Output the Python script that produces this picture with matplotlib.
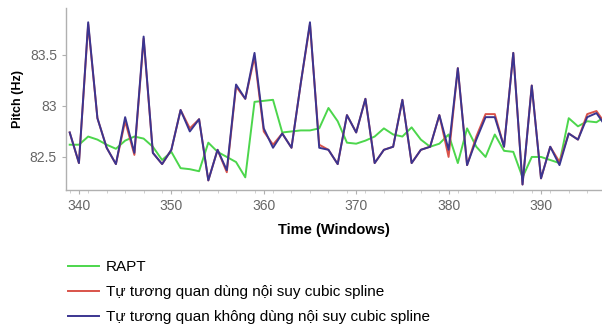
import matplotlib
matplotlib.use("Agg")
import matplotlib.pyplot as plt
import numpy as np

# window index on the x axis
windows = np.arange(339, 398)

rapt = [82.62, 82.62, 82.70, 82.67, 82.62, 82.58, 82.66, 82.70, 82.68, 82.60,
        82.47, 82.55, 82.39, 82.38, 82.36, 82.64, 82.55, 82.50, 82.45, 82.30,
        83.04, 83.05, 83.06, 82.74, 82.75, 82.76, 82.76, 82.78, 82.98, 82.85,
        82.64, 82.63, 82.66, 82.70, 82.78, 82.72, 82.70, 82.79, 82.67, 82.60,
        82.63, 82.72, 82.44, 82.78, 82.60, 82.50, 82.72, 82.56, 82.55, 82.30,
        82.50, 82.50, 82.47, 82.44, 82.88, 82.80, 82.85, 82.84, 82.90]

acf_spline = [82.74, 82.44, 83.80, 82.88, 82.59, 82.43, 82.85, 82.52, 83.66, 82.54,
              82.43, 82.57, 82.96, 82.78, 82.87, 82.27, 82.57, 82.35, 83.19, 83.07,
              83.48, 82.75, 82.62, 82.73, 82.59, 83.22, 83.80, 82.62, 82.57, 82.43,
              82.91, 82.74, 83.07, 82.44, 82.57, 82.60, 83.06, 82.44, 82.57, 82.60,
              82.91, 82.50, 83.37, 82.42, 82.70, 82.92, 82.92, 82.60, 83.52, 82.23,
              83.20, 82.29, 82.60, 82.45, 82.73, 82.67, 82.92, 82.95, 82.82]

acf_no_spline = [82.74, 82.44, 83.82, 82.88, 82.59, 82.43, 82.89, 82.54, 83.68, 82.54,
                 82.43, 82.57, 82.96, 82.75, 82.87, 82.27, 82.57, 82.37, 83.21, 83.07,
                 83.52, 82.78, 82.59, 82.73, 82.59, 83.22, 83.82, 82.59, 82.57, 82.43,
                 82.91, 82.74, 83.07, 82.44, 82.57, 82.60, 83.06, 82.44, 82.57, 82.60,
                 82.91, 82.57, 83.37, 82.42, 82.67, 82.89, 82.89, 82.60, 83.52, 82.23,
                 83.20, 82.29, 82.60, 82.42, 82.73, 82.67, 82.89, 82.93, 82.80]

labels = ["RAPT",
          "Tự tương quan dùng nội suy cubic spline",
          "Tự tương quan không dùng nội suy cubic spline"]
colors = ["#4cd64c", "#d9534a", "#3b3590"]

plt.rcParams["font.family"] = ["Liberation Sans", "DejaVu Sans"]

fig = plt.figure(figsize=(6.02, 3.28), dpi=100)
ax = fig.add_axes([66 / 602, 1 - 190 / 328, 1 - 66 / 602, 182 / 328])

l1, = ax.plot(windows, rapt, color=colors[0], lw=1.4)
l2, = ax.plot(windows, acf_spline, color=colors[1], lw=1.4)
l3, = ax.plot(windows, acf_no_spline, color=colors[2], lw=1.4)

ax.set_xlim(338.6, 396.6)
ax.set_ylim(82.176, 83.96)
ax.set_xticks([340, 350, 360, 370, 380, 390])
ax.set_yticks([82.5, 83, 83.5])
ax.set_yticklabels(["82.5", "83", "83.5"])
ax.set_xticks(np.arange(339, 397, 2), minor=True)

for side in ["top", "right"]:
    ax.spines[side].set_visible(False)
for side in ["left", "bottom"]:
    ax.spines[side].set_color("#b0b0b0")
    ax.spines[side].set_linewidth(1.0)

ax.tick_params(axis="both", colors="#b0b0b0", labelcolor="#666666",
               labelsize=10, length=3, width=0.8)
ax.tick_params(axis="x", which="minor", colors="#c8c8c8", length=2, width=0.6)

ax.set_xlabel("Time (Windows)", fontsize=10.5, fontweight="bold", labelpad=7)
ax.set_ylabel("Pitch (Hz)", fontsize=9, fontweight="bold", labelpad=4)

fig.legend([l1, l2, l3], labels, loc="upper left",
           bbox_to_anchor=(62 / 602, 1 - 254 / 328), frameon=False,
           fontsize=11, handlelength=2.0, handletextpad=0.45,
           labelspacing=0.72, borderaxespad=0)

fig.savefig("out.png", dpi=100)
